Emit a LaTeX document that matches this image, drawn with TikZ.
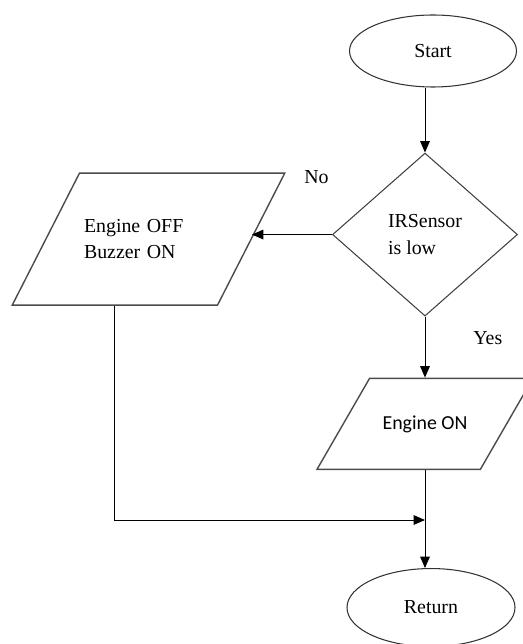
\documentclass[tikz,border=0pt]{standalone}
\usepackage{fontspec}
\setmainfont{Liberation Serif}
\newfontfamily\calibrifont{Carlito}
\usetikzlibrary{shapes.geometric,calc,arrows.meta,positioning}

\begin{document}
\begin{tikzpicture}[>={Triangle[width=5.5pt,length=6.5pt]}, font=\fontsize{11.3pt}{15pt}\selectfont,
  term/.style={draw=black!80, ellipse, line width=0.6pt, inner sep=0pt},
  io/.style={draw=black!70, trapezium, trapezium left angle=63, trapezium right angle=117, line width=0.8pt, align=left, inner ysep=0pt},
  cond/.style={draw=black!75, diamond, line width=0.6pt, align=left, inner sep=0pt, minimum width=3.7cm, minimum height=3.26cm},
  flow/.style={->, line width=0.5pt}]
\useasboundingbox (-8.66,1.02) rectangle (1.78,-11.86);
\node[term, minimum width=3.34cm, minimum height=1.44cm] (start) {Start};
\node[cond, below=1.3cm of start, xshift=-0.16cm] (dec) {IRSensor\\is low};
\node[io, trapezium left angle=60, trapezium right angle=120, inner xsep=0.26cm, text height=1.02cm, text depth=0.8cm, below=1.22cm of dec] (onpara) {\calibrifont Engine ON};
\node[io, inner xsep=0.09cm, text width=2.58cm, text height=1.19cm, text depth=1.45cm, left=1.6cm of dec, yshift=-0.09cm] (offpara) {Engine OFF\\Buzzer ON};
\node[term, minimum width=3.36cm, minimum height=1.56cm, below=1.96cm of onpara, xshift=0.12cm] (ret) {Return};
\coordinate (join) at ($(dec.south |- onpara.south)+(0,-1cm)$);
% branch labels
\node[above left=1.02cm and 0.06cm of dec.west, inner sep=0pt] (nolbl) {No};
\node[below right=0.3cm and 0.96cm of dec.south, inner sep=0pt] (yeslbl) {Yes};
\draw[flow] (dec.north |- start.south) -- (dec.north);
\draw[flow] (dec.west) -- (dec.west -| offpara.right side);
\draw[flow] (dec.south) -- (dec.south |- onpara.north);
\draw[flow] (dec.south |- onpara.south) -- (dec.south |- ret.north);
\draw[flow] (offpara.bottom side) |- (join);
\end{tikzpicture}
\end{document}
